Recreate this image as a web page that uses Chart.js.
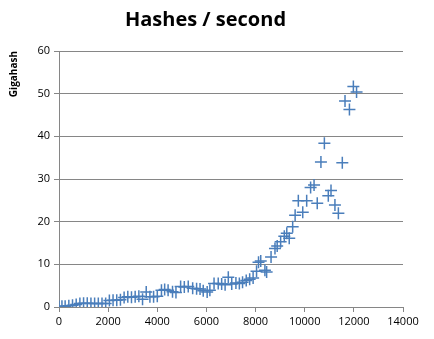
<!DOCTYPE html>
<html>
<head>
<meta charset="utf-8">
<script src="https://cdn.jsdelivr.net/npm/chart.js@4"></script>
<style>
    html, body { margin: 0; padding: 0; background: #fff; }
    #wrap { width: 434px; height: 339px; }
</style>
</head>
<body>
<div id="wrap"><canvas id="hashChart"></canvas></div>
<script>
// hashes per second
const xValues = [
    0, 120, 250, 400, 550, 700, 850, 1000, 1150, 1300, 1450, 1600, 1750, 1900,
    2050, 2200, 2350, 2500, 2650, 2800, 2950, 3100, 3250, 3400, 3550, 3700, 3850, 4000,
    4170, 4300, 4440, 4620, 4760, 4950, 5100, 5260, 5440, 5600, 5740, 5870, 6030, 6140,
    6310, 6480, 6620, 6760, 6890, 7030, 7200, 7340, 7470, 7620, 7760, 7900, 8040, 8120,
    8210, 8380, 8450, 8630, 8790, 8880, 9020, 9170, 9270, 9370, 9510, 9610, 9740, 9920,
    10080, 10240, 10380, 10510, 10660, 10800, 10960, 11070, 11230, 11370, 11530, 11640,
    11820, 11980, 12110
];
const yValues = [
    0.1, 0.2, 0.2, 0.3, 0.4, 0.6, 0.8, 0.9, 0.9, 0.8, 0.8, 0.8, 0.8, 0.8,
    1.5, 1.6, 1.6, 1.7, 2.2, 2.4, 2.3, 2.4, 2.5, 1.8, 3.5, 2.4, 2.4, 2.5,
    3.9, 4.1, 3.9, 3.6, 3.4, 4.8, 4.7, 4.8, 4.4, 4.3, 4.2, 3.8, 3.5, 3.9,
    5.5, 5.5, 5.4, 5.2, 7.0, 5.4, 5.6, 5.5, 5.8, 6.2, 6.5, 6.8, 8.4, 10.5,
    10.8, 8.6, 8.2, 11.7, 13.7, 14.3, 15.3, 16.6, 17.3, 16.1, 18.8, 21.5, 24.9, 22.2,
    24.9, 28.0, 28.6, 24.3, 34.0, 38.4, 26.1, 27.3, 23.9, 22.0, 33.8, 48.3,
    46.3, 51.7, 50.4
];
const xTicks = [0, 2000, 4000, 6000, 8000, 10000, 12000, 14000];
const yTicks = [0, 10, 20, 30, 40, 50, 60];

const points = xValues.map((x, i) => ({ x: x, y: yValues[i] }));
const axisGray = "#868686";
const fontFamily = "'Open Sans', 'Liberation Sans', sans-serif";
const tickFont = { family: fontFamily, size: 11 };

new Chart(document.getElementById("hashChart").getContext("2d"), {
    type: "scatter",
    data: {
        datasets: [{
            data: points,
            pointStyle: "cross",
            pointRadius: 6,
            pointHoverRadius: 6,
            pointBorderWidth: 1.5,
            borderColor: "#4A7EBB",
            backgroundColor: "#4A7EBB"
        }]
    },
    options: {
        responsive: true,
        maintainAspectRatio: false,
        animation: false,
        layout: { padding: { left: 8, right: 31, top: 6, bottom: 8 } },
        plugins: {
            legend: { display: false },
            tooltip: { enabled: false },
            title: {
                display: true,
                text: "Hashes / second",
                color: "#000",
                font: { family: fontFamily, size: 20, weight: "bold" },
                padding: { top: 2, bottom: 19 }
            }
        },
        scales: {
            x: {
                type: "linear",
                min: 0,
                max: 14000,
                afterBuildTicks: axis => { axis.ticks = xTicks.map(v => ({ value: v })); },
                afterFit: axis => { axis.height = 24; },
                ticks: {
                    color: "#000",
                    font: tickFont,
                    padding: 3,
                    maxRotation: 0,
                    callback: v => String(v)
                },
                grid: { drawOnChartArea: false, drawTicks: true, tickLength: 5, color: axisGray },
                border: { color: axisGray, width: 1 }
            },
            y: {
                min: 0,
                max: 60,
                afterBuildTicks: axis => { axis.ticks = yTicks.map(v => ({ value: v })); },
                afterFit: axis => { axis.width = 51; },
                ticks: { color: "#000", font: tickFont, padding: 4 },
                grid: { color: axisGray, tickLength: 5 },
                border: { color: axisGray, width: 1 },
                title: {
                    display: true,
                    text: "Gigahash",
                    align: "end",
                    color: "#000",
                    font: { family: fontFamily, size: 10, weight: "bold" },
                    padding: 0
                }
            }
        }
    }
});
</script>
</body>
</html>
